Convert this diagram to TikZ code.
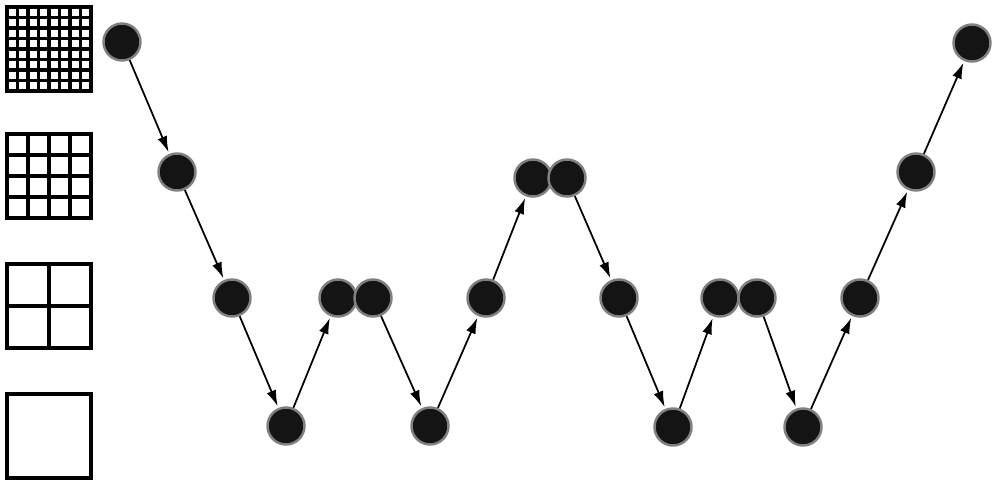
\documentclass[tikz,border=0pt]{standalone}
\usepackage{tikz}
\usetikzlibrary{arrows.meta,positioning}

\tikzset{
  dot/.style={circle, fill=black!92, draw=black!50, line width=1.4pt,
              minimum size=0.74cm, inner sep=0pt},
  flow/.style={-{Latex[length=3.2mm,width=2mm]}, line width=1pt, shorten >=1pt},
  mesh/.style={line width=1.8pt, line cap=rect}
}

\begin{document}
\begin{tikzpicture}
  \useasboundingbox (0,0) rectangle (20,9.72);

  % grids, fine to coarse
  \foreach \n/\bot in {8/7.90, 4/5.36, 2/2.76, 1/0.16} {
    \pgfmathsetmacro{\cell}{1.68/\n}
    \foreach \i in {0,...,\n} {
      \draw[mesh] ({0.14+\i*\cell},\bot) -- ({0.14+\i*\cell},{\bot+1.68});
      \draw[mesh] (0.14,{\bot+\i*\cell}) -- (1.82,{\bot+\i*\cell});
    }
  }

  % levels
  \node[dot] (n1)  at (2.44,8.88) {};
  \node[dot] (n2)  at (3.54,6.28) {};
  \node[dot] (n3)  at (4.64,3.76) {};
  \node[dot] (n4)  at (5.72,1.20) {};
  \node[dot] (n5)  at (6.76,3.76) {};
  \node[dot] (n6)  at (7.46,3.76) {};
  \node[dot] (n7)  at (8.60,1.20) {};
  \node[dot] (n8)  at (9.72,3.76) {};
  \node[dot] (n9)  at (10.66,6.16) {};
  \node[dot] (n10) at (11.34,6.16) {};
  \node[dot] (n11) at (12.38,3.76) {};
  \node[dot] (n12) at (13.46,1.18) {};
  \node[dot] (n13) at (14.40,3.76) {};
  \node[dot] (n14) at (15.14,3.76) {};
  \node[dot] (n15) at (16.06,1.18) {};
  \node[dot] (n16) at (17.20,3.76) {};
  \node[dot] (n17) at (18.32,6.28) {};
  \node[dot] (n18) at (19.44,8.86) {};

  \foreach \a/\b in {n1/n2, n2/n3, n3/n4, n4/n5, n6/n7, n7/n8, n8/n9,
                     n10/n11, n11/n12, n12/n13, n14/n15, n15/n16,
                     n16/n17, n17/n18}
    \draw[flow] (\a) -- (\b);
\end{tikzpicture}
\end{document}
